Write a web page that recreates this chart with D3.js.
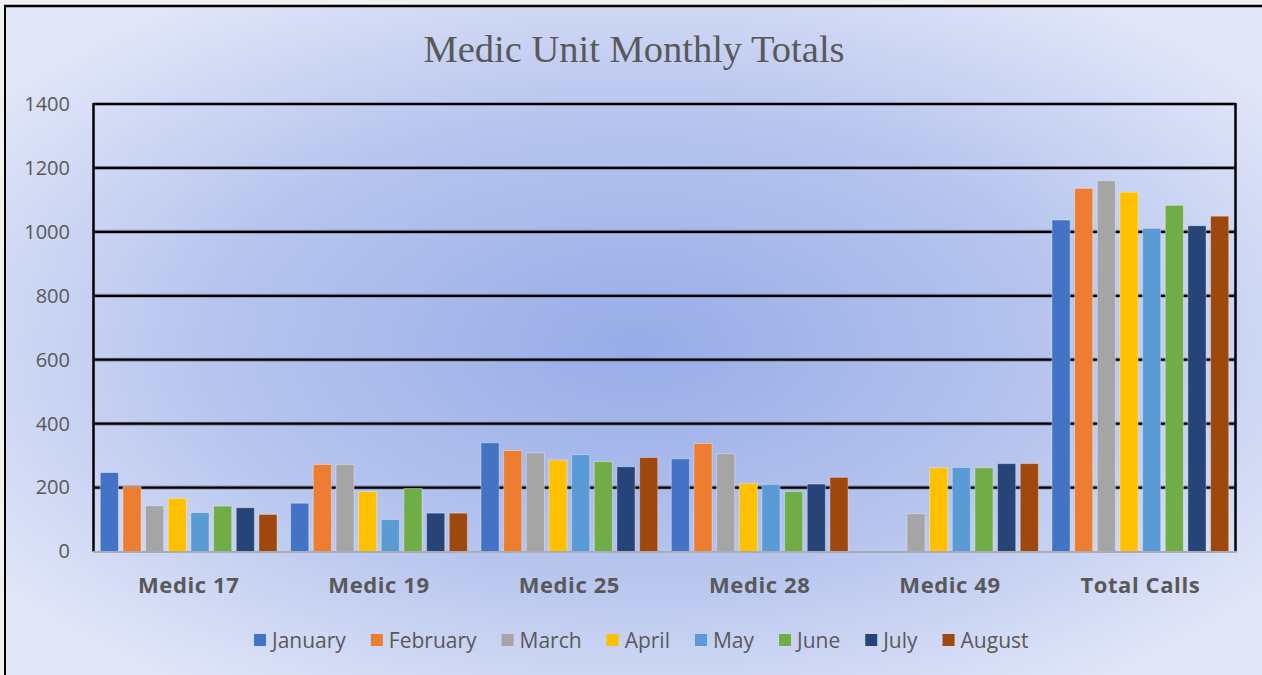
<!DOCTYPE html>
<html>
<head>
<meta charset="utf-8">
<script src="https://cdn.jsdelivr.net/npm/d3@7/dist/d3.min.js"></script>
<style>
  html, body { margin: 0; padding: 0; background: #f0f0f0; }
  svg { display: block; }
</style>
</head>
<body>
<svg id="chart" width="1262" height="675"></svg>
<script>
const categories = ["Medic 17", "Medic 19", "Medic 25", "Medic 28", "Medic 49", "Total Calls"];
const months = ["January", "February", "March", "April", "May", "June", "July", "August"];
const january  = [247, 151, 340, 290, 0, 1037];
const february = [203, 272, 316, 338, 0, 1136];
const march    = [143, 272, 309, 306, 118, 1160];
const april    = [166, 187, 286, 213, 262, 1124];
const may      = [122, 100, 303, 210, 263, 1011];
const june     = [142, 197, 281, 188, 262, 1083];
const july     = [137, 120, 265, 211, 275, 1019];
const august   = [116, 120, 294, 232, 275, 1049];
const yTicks = [0, 200, 400, 600, 800, 1000, 1200, 1400];
const title = "Medic Unit Monthly Totals";

const seriesValues = [january, february, march, april, may, june, july, august];
const colors = ["#4472C4", "#ED7D31", "#A5A5A5", "#FFC000", "#5B9BD5", "#70AD47", "#264478", "#9E480E"];

const svg = d3.select("#chart");
const W = 1262, H = 675;
const plot = { left: 93.5, right: 1235.5, top: 104, bottom: 551.5 };

const defs = svg.append("defs");
const grad = defs.append("radialGradient").attr("id", "bg")
  .attr("cx", "50%").attr("cy", "50%").attr("r", "62%");
grad.append("stop").attr("offset", "0%").attr("stop-color", "#97ace8");
grad.append("stop").attr("offset", "55%").attr("stop-color", "#b7c5ee");
grad.append("stop").attr("offset", "100%").attr("stop-color", "#e1e6f8");

// chart background + frame
svg.append("rect").attr("x", 5).attr("y", 6).attr("width", W).attr("height", H)
  .attr("fill", "url(#bg)");
svg.append("line").attr("x1", 5).attr("x2", 5).attr("y1", 5).attr("y2", H).attr("stroke", "#000").attr("stroke-width", 2);
svg.append("line").attr("x1", 4).attr("x2", W).attr("y1", 6).attr("y2", 6).attr("stroke", "#000").attr("stroke-width", 2.5);

// title
svg.append("text").attr("x", 634).attr("y", 62).attr("text-anchor", "middle")
  .attr("font-family", "'Liberation Serif', 'Times New Roman', serif")
  .attr("font-size", 38.5).attr("fill", "#595959").text(title);

const y = d3.scaleLinear().domain([0, 1400]).range([plot.bottom, plot.top]);
const x0 = d3.scaleBand().domain(categories).range([plot.left, plot.right]).padding(0);
const x1 = d3.scaleBand().domain(months).range([0, x0.bandwidth()]).paddingInner(0.2).paddingOuter(0.3);

// gridlines
const grid = svg.append("g");
yTicks.filter(t => t > 0).forEach(t => {
  grid.append("line").attr("x1", plot.left).attr("x2", plot.right).attr("y1", y(t)).attr("y2", y(t))
    .attr("stroke", "#6d7590").attr("stroke-width", 4).attr("stroke-opacity", 0.6);
  grid.append("line").attr("x1", plot.left).attr("x2", plot.right).attr("y1", y(t)).attr("y2", y(t))
    .attr("stroke", "#000").attr("stroke-width", 2.2);
});
// left / right plot borders
[plot.left, plot.right].forEach(xx => {
  svg.append("line").attr("x1", xx).attr("x2", xx).attr("y1", plot.top - 1).attr("y2", plot.bottom)
    .attr("stroke", "#000").attr("stroke-width", 2.5);
});

// bars
const groups = svg.append("g").selectAll("g").data(categories).join("g")
  .attr("transform", d => `translate(${x0(d)},0)`);
groups.selectAll("rect").data((c, ci) => months.map((m, mi) => ({ m, mi, v: seriesValues[mi][ci] })))
  .join("rect")
  .attr("x", d => x1(d.m))
  .attr("width", x1.bandwidth())
  .attr("y", d => y(d.v))
  .attr("height", d => y(0) - y(d.v))
  .attr("fill", d => colors[d.mi])
  .attr("stroke", d => d.v > 0 ? "rgba(255,255,255,0.35)" : "none")
  .attr("stroke-width", 1);

// bottom axis line
svg.append("line").attr("x1", plot.left).attr("x2", plot.right + 1).attr("y1", y(0) + 0.5).attr("y2", y(0) + 0.5)
  .attr("stroke", "#a9acb5").attr("stroke-width", 2);

// y axis labels
const yAxis = d3.axisLeft(y).tickValues(yTicks).tickSize(0).tickPadding(0).tickFormat(d3.format("d"));
const ya = svg.append("g").attr("transform", `translate(70,0)`).call(yAxis);
ya.select(".domain").remove();
ya.selectAll("text").attr("font-family", "'Open Sans', sans-serif").attr("font-size", 20).attr("fill", "#595959");

// x axis labels
const xAxis = d3.axisBottom(x0).tickSize(0).tickPadding(0);
const xa = svg.append("g").attr("transform", `translate(0,577)`).call(xAxis);
xa.select(".domain").remove();
xa.selectAll("text").attr("font-family", "'Open Sans', sans-serif").attr("font-size", 22)
  .attr("letter-spacing", 0.6).attr("font-weight", "bold").attr("fill", "#595959");

// legend
const legend = svg.append("g").attr("transform", "translate(0,648)");
let lx = 254;
months.forEach((m, i) => {
  legend.append("rect").attr("x", lx).attr("y", -14).attr("width", 12).attr("height", 12).attr("fill", colors[i]);
  const t = legend.append("text").attr("x", lx + 18).attr("y", 0)
    .attr("font-family", "'Open Sans', sans-serif").attr("font-size", 21).attr("fill", "#595959").text(m);
  lx += 18 + t.node().getComputedTextLength() + 25;
});
</script>
</body>
</html>
